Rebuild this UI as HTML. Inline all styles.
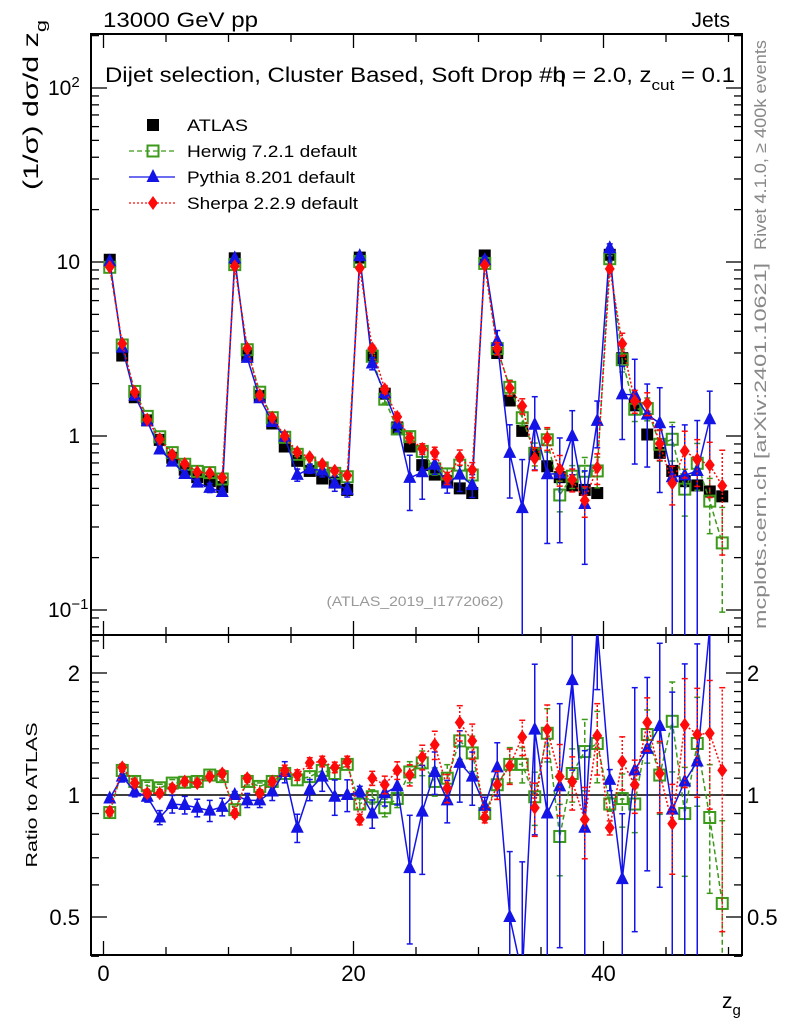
<!DOCTYPE html>
<html><head><meta charset="utf-8">
<style>
html,body{margin:0;padding:0;background:#fff;width:786px;height:1024px;overflow:hidden;}
svg{display:block;font-family:"Liberation Sans",sans-serif;}
</style></head>
<body>
<svg id="chart" width="786" height="1024" viewBox="0 0 786 1024" xmlns="http://www.w3.org/2000/svg">
<defs>
<clipPath id="clipMain"><rect x="91" y="34" width="651" height="601"/></clipPath>
<clipPath id="clipRatio"><rect x="91" y="635" width="651" height="320"/></clipPath>
</defs>
<rect x="0" y="0" width="786" height="1024" fill="#fff"/>
<text x="103" y="27" font-size="21" textLength="155" lengthAdjust="spacingAndGlyphs">13000 GeV pp</text>
<text x="730" y="27" font-size="21" text-anchor="end">Jets</text>
<text x="105" y="82" font-size="21" textLength="630" lengthAdjust="spacingAndGlyphs">Dijet selection, Cluster Based, Soft Drop #b<tspan dx="-12">η</tspan> = 2.0, z<tspan font-size="15" dy="8">cut</tspan><tspan dy="-8"> = 0.1</tspan></text>
<text transform="translate(38,105) rotate(-90)" font-size="21" text-anchor="middle" textLength="170" lengthAdjust="spacingAndGlyphs">(1/σ) dσ/d z<tspan font-size="15" dy="8">g</tspan></text>
<text transform="translate(37,795) rotate(-90)" font-size="16" text-anchor="middle" textLength="145" lengthAdjust="spacingAndGlyphs">Ratio to ATLAS</text>
<text x="722" y="1008" font-size="21">z<tspan font-size="15" dy="7">g</tspan></text>
<text transform="translate(766,145) rotate(-90)" font-size="17" fill="#888" text-anchor="middle" textLength="210" lengthAdjust="spacingAndGlyphs">Rivet 4.1.0, ≥ 400k events</text>
<text transform="translate(766,446) rotate(-90)" font-size="17" fill="#888" text-anchor="middle" textLength="366" lengthAdjust="spacingAndGlyphs">mcplots.cern.ch [arXiv:2401.10621]</text>
<text x="415" y="606" font-size="14" fill="#999" text-anchor="middle" textLength="177" lengthAdjust="spacingAndGlyphs">(ATLAS_2019_I1772062)</text>
<g id="axes"></g>
<g id="mainMarks" clip-path="url(#clipMain)"></g>
<g id="ratioMarks" clip-path="url(#clipRatio)"></g>
<g id="legend"></g>
</svg>
<script>
// ---- data ----
const binCenters = [0.5,1.5,2.5,3.5,4.5,5.5,6.5,7.5,8.5,9.5,10.5,11.5,12.5,13.5,14.5,15.5,16.5,17.5,18.5,19.5,20.5,21.5,22.5,23.5,24.5,25.5,26.5,27.5,28.5,29.5,30.5,31.5,32.5,33.5,34.5,35.5,36.5,37.5,38.5,39.5,40.5,41.5,42.5,43.5,44.5,45.5,46.5,47.5,48.5,49.5];
const atlasValues = [10.3,2.9,1.67,1.23,0.95,0.75,0.64,0.58,0.55,0.51,
 10.5,2.9,1.7,1.18,0.87,0.72,0.63,0.57,0.54,0.49,
 10.6,2.9,1.75,1.12,0.87,0.68,0.60,0.55,0.50,0.47,
 10.9,3.0,1.6,1.07,0.80,0.67,0.58,0.52,0.49,0.47,
 11.0,2.8,1.5,1.02,0.80,0.63,0.55,0.52,0.48,0.45];
const herwigRatio = [0.905,1.15,1.08,1.054,1.042,1.07,1.075,1.08,1.12,1.11,
 0.92,1.08,1.05,1.08,1.13,1.09,1.11,1.15,1.13,1.19,
 0.95,0.99,0.93,0.98,1.14,1.2,1.08,1.1,1.36,1.27,
 0.9,1.06,1.19,1.19,0.99,1.42,0.79,1.13,1.28,1.34,
 0.95,0.98,0.95,1.41,1.12,1.52,0.9,1.34,0.88,0.54];
const pythiaRatio = [0.98,1.11,1.02,0.99,0.88,0.95,0.945,0.93,0.915,0.935,
 1.0,0.97,0.97,1.02,1.14,0.83,1.03,1.11,0.99,1.0,
 1.02,0.9,1.01,1.05,0.66,0.91,1.14,0.97,1.2,1.11,
 0.94,1.17,0.5,0.36,1.45,0.9,1.05,1.92,0.83,2.6,
 1.09,0.62,1.15,1.3,1.48,0.92,1.08,1.21,2.6,null];
const sherpaRatio = [0.91,1.17,1.07,1.01,1.01,1.04,1.08,1.07,1.11,1.13,
 0.9,1.1,1.01,1.08,1.15,1.12,1.2,1.21,1.17,1.21,
 0.87,1.1,1.06,1.15,1.12,1.24,1.33,1.04,1.51,1.36,
 0.88,1.06,1.18,1.39,0.93,1.45,1.11,1.08,0.87,1.4,
 0.83,1.21,1.06,1.51,1.13,0.85,1.49,1.41,1.42,1.15];
const pythiaErr = [0.02,0.03,0.03,0.03,0.04,0.05,0.05,0.05,0.06,0.05,
 0.02,0.04,0.04,0.05,0.06,0.08,0.06,0.08,0.1,0.09,
 0.03,0.08,0.07,0.1,0.35,0.3,0.12,0.12,0.2,0.15,
 0.05,0.15,0.45,0.9,0.45,0.6,0.6,0.4,0.55,0.3,
 0.06,0.45,0.6,0.5,0.6,0.95,0.95,0.95,0.45,0];
const herwigErr = [0.02,0.02,0.02,0.02,0.02,0.02,0.02,0.02,0.02,0.02,
 0.02,0.02,0.02,0.02,0.03,0.03,0.03,0.03,0.03,0.03,
 0.03,0.04,0.05,0.05,0.06,0.07,0.08,0.08,0.1,0.1,
 0.03,0.08,0.1,0.1,0.15,0.15,0.2,0.15,0.2,0.2,
 0.04,0.15,0.15,0.15,0.2,0.25,0.3,0.3,0.35,0.6];
const sherpaErr = herwigErr;
const xTickLabels = ["0","20","40"];
const mainTickLabels = ["10<tspan font-size='15' dy='-8'>−1</tspan>","1","10","10<tspan font-size='15' dy='-8'>2</tspan>"];
const ratioTickLabels = ["0.5","1","2"];

// ---- axes functions ----
const L=91,R=742,MT=34,MB=635,RB=955;
const xs = v => 103.5 + v*12.5;
const ym = v => 262 - (Math.log10(v)-1)*174;
const yr = r => 795 - Math.log2(r)*122;
const NS="http://www.w3.org/2000/svg";
function mk(tag, attrs, parent){const e=document.createElementNS(NS,tag);for(const k in attrs)e.setAttribute(k,attrs[k]);parent.appendChild(e);return e;}
const axes=document.getElementById('axes');
const mainG=document.getElementById('mainMarks');
const ratioG=document.getElementById('ratioMarks');
const legG=document.getElementById('legend');

let f1=mk('rect',{x:L,y:MT,width:R-L,height:MB-MT,fill:'none',stroke:'#000','stroke-width':2},axes);


let f2=mk('rect',{x:L,y:MB,width:R-L,height:RB-MB,fill:'none',stroke:'#000','stroke-width':2},axes);


for(let v=0;v<=50;v+=5){
  const x=xs(v); const maj=(v%20===0);
  const len = maj?14:8;
  [[MT,1],[MB,-1],[MB,1],[RB,-1]].forEach(([y0,d])=>{
    let t=mk('line',{x1:x,x2:x,y1:y0,y2:y0+d*len,stroke:'#000','stroke-width':1.3},axes);
    
    
  });
}
xTickLabels.forEach((lab,i)=>{
  let t=mk('text',{x:xs(i*20),y:981,'font-size':22,'text-anchor':'middle'},axes);
  t.textContent=lab;
  
  
});
for(let e=-2;e<=2;e++){
  for(let m=1;m<=9;m++){
    const v=m*Math.pow(10,e); const y=ym(v);
    if(y<MT||y>MB) continue;
    const len=m===1?16:8;
    let t1=mk('line',{x1:L,x2:L+len,y1:y,y2:y,stroke:'#000','stroke-width':1.3},axes);
    
    
    let t2=mk('line',{x1:R,x2:R-len,y1:y,y2:y,stroke:'#000','stroke-width':1.3},axes);
    
    
  }
}
mainTickLabels.forEach((lab,i)=>{
  const v=Math.pow(10,i-1);
  let t=mk('text',{x:80,y:ym(v)+7,'font-size':21,'text-anchor':'end'},axes);
  if(i==0||i==3){t.setAttribute('x',48);t.setAttribute('text-anchor','start');}
  t.innerHTML=lab;
  
  
});
const rMinor=[0.4,0.5,0.6,0.7,0.8,0.9,1,1.1,1.2,1.3,1.4,1.5,1.6,1.7,1.8,1.9,2,2.2,2.4];
rMinor.forEach(r=>{
  const y=yr(r); const maj=(r===0.5||r===1||r===2); const len=maj?16:8;
  let t1=mk('line',{x1:L,x2:L+len,y1:y,y2:y,stroke:'#000','stroke-width':1.3},axes);
  
  
  let t2=mk('line',{x1:R,x2:R-len,y1:y,y2:y,stroke:'#000','stroke-width':1.3},axes);
  
  
});
ratioTickLabels.forEach(lab=>{
  const r=parseFloat(lab);
  let t=mk('text',{x:80,y:yr(r)+8,'font-size':22,'text-anchor':'end'},axes);
  t.textContent=lab;
  
  
  let t2=mk('text',{x:747,y:yr(r)+8,'font-size':22},axes);
  t2.textContent=lab;
  
  
});
let one=mk('line',{x1:L,x2:R,y1:yr(1),y2:yr(1),stroke:'#000','stroke-width':1.5},ratioG);



function marker(g,type,x,y,color,name){
  let e;
  if(type==='sq') e=mk('rect',{x:x-6,y:y-6,width:12,height:12,fill:'#000'},g);
  else if(type==='osq') e=mk('rect',{x:x-5.5,y:y-5.5,width:11,height:11,fill:'none',stroke:color,'stroke-width':2},g);
  else if(type==='tri') e=mk('polygon',{points:`${x},${y-8} ${x-6.5},${y+5} ${x+6.5},${y+5}`,fill:color},g);
  else e=mk('polygon',{points:`${x},${y-7} ${x-5},${y} ${x},${y+7} ${x+5},${y}`,fill:color},g);
  
  
}
const series=[
 {key:'herwig',ratio:herwigRatio,err:herwigErr,color:'#3c9a1a',dash:'5,3',type:'osq'},
 {key:'pythia',ratio:pythiaRatio,err:pythiaErr,color:'#1414e6',dash:null,type:'tri'},
 {key:'sherpa',ratio:sherpaRatio,err:sherpaErr,color:'#ff0a0a',dash:'2,2',type:'dia'}
];
function drawSeries(s,g,yf,valFn){
  let pts=[];
  binCenters.forEach((c,i)=>{ if(s.ratio[i]==null) return; pts.push([xs(c),yf(valFn(i))]); });
  let p=mk('polyline',{points:pts.map(p=>p.join(',')).join(' '),fill:'none',stroke:s.color,'stroke-width':1.5},g);
  if(s.dash) p.setAttribute('stroke-dasharray',s.dash);
  
  
  binCenters.forEach((c,i)=>{
    if(s.ratio[i]==null) return;
    const v=valFn(i), x=xs(c), e=s.err[i];
    const lo=Math.max(v*(1-e),1e-3), hi=v*(1+e);
    let eb=mk('line',{x1:x,x2:x,y1:yf(lo),y2:yf(hi),stroke:s.color,'stroke-width':1.5},g);
    if(s.dash) eb.setAttribute('stroke-dasharray',s.dash);
    
    
    [lo,hi].forEach(b=>{
      let cap=mk('line',{x1:x-3,x2:x+3,y1:yf(b),y2:yf(b),stroke:s.color,'stroke-width':1.5},g);
      
      
    });
    marker(g,s.type,x,yf(v),s.color,s.key+'-point');
  });
}
binCenters.forEach((c,i)=>{ marker(mainG,'sq',xs(c),ym(atlasValues[i]),'#000','atlas-point'); });
series.forEach(s=>{
  drawSeries(s,mainG,ym,i=>atlasValues[i]*s.ratio[i]);
  drawSeries(s,ratioG,yr,i=>s.ratio[i]);
});

const legRows=[
 {name:'ATLAS',type:'sq',color:'#000',dash:null,line:false,len:61},
 {name:'Herwig 7.2.1 default',type:'osq',color:'#3c9a1a',dash:'5,3',line:true,len:170},
 {name:'Pythia 8.201 default',type:'tri',color:'#1414e6',dash:null,line:true,len:168},
 {name:'Sherpa 2.2.9 default',type:'dia',color:'#ff0a0a',dash:'2,2',line:true,len:171}
];
legRows.forEach((r,i)=>{
  const y=125+i*26;
  if(r.line){
    let l=mk('line',{x1:129,x2:175,y1:y,y2:y,stroke:r.color,'stroke-width':1.3},legG);
    if(r.dash) l.setAttribute('stroke-dasharray',r.dash);
    
    
  }
  marker(legG,r.type,153,y,r.color,'legend-marker');
  let t=mk('text',{x:187,y:y+6,'font-size':17,textLength:r.len,lengthAdjust:'spacingAndGlyphs'},legG);
  t.textContent=r.name;
  
  
});
</script>
</body></html>
